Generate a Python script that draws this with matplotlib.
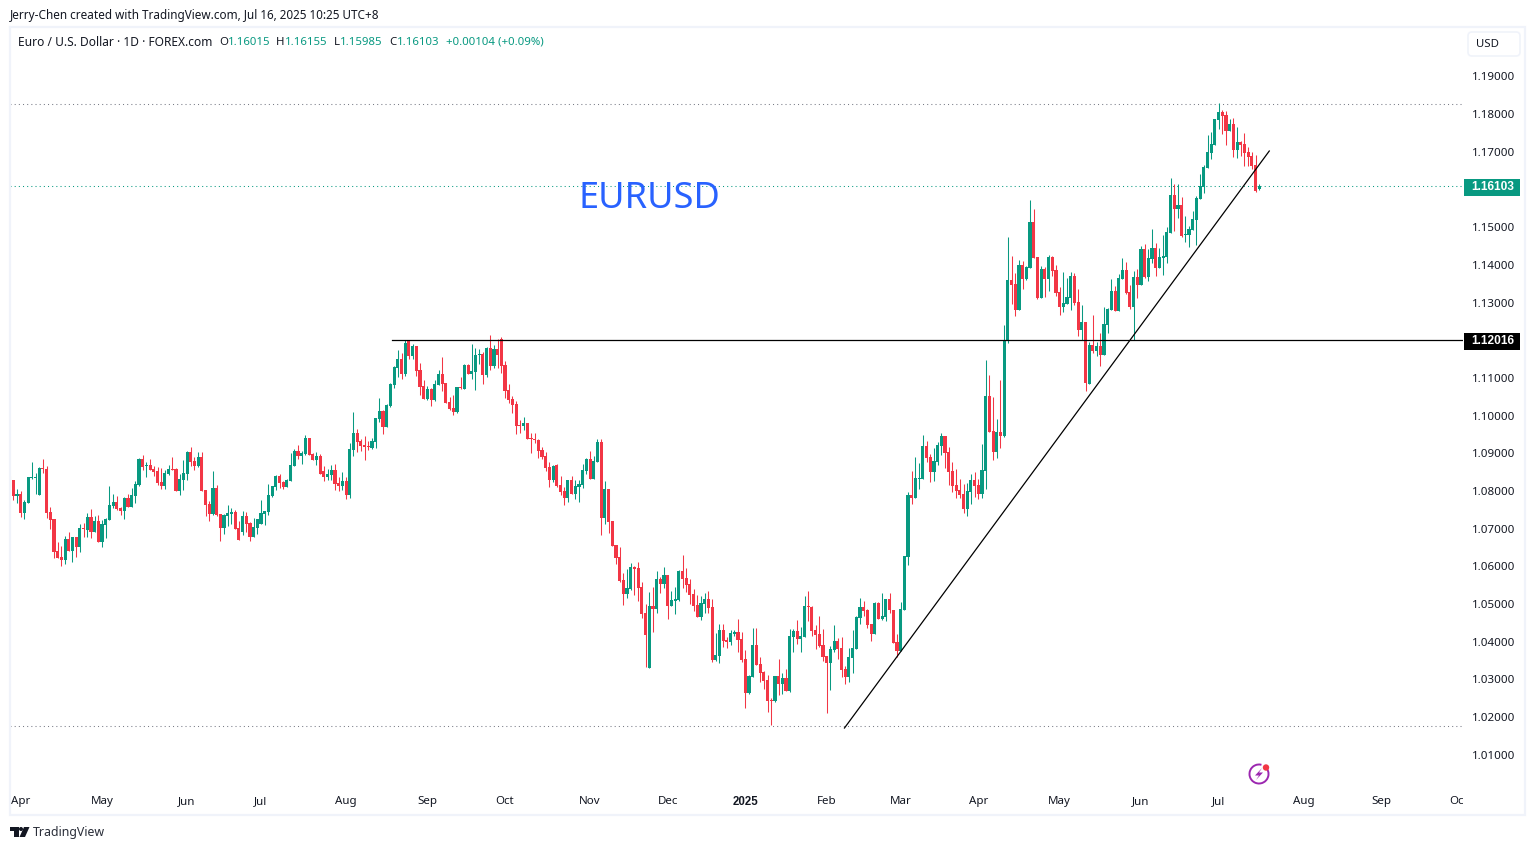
import numpy as np
import matplotlib
matplotlib.use("Agg")
import matplotlib.pyplot as plt
from matplotlib.patches import Rectangle, FancyBboxPatch, Circle, Polygon, Arc

plt.rcParams['font.family'] = ['Noto Sans', 'DejaVu Sans']

# daily EURUSD candles
opens = [1.0831,1.0829,1.0786,1.0792,1.0741,1.0769,1.0834,1.0834,1.0789,1.0861,1.0858,1.0744,1.0725,1.0640,1.0624,1.0616,1.0672,1.0640,1.0677,1.0651,1.0701,
         1.0696,1.0730,1.0691,1.0720,1.0664,1.0709,1.0722,1.0760,1.0770,1.0754,1.0746,1.0781,1.0757,1.0786,1.0815,1.0884,1.0866,1.0869,1.0858,1.0853,
         1.0823,1.0813,1.0845,1.0858,1.0858,1.0799,1.0829,1.0845,1.0903,1.0879,1.0866,1.0890,1.0802,1.0765,1.0738,1.0807,1.0738,1.0701,1.0733,1.0738,
         1.0744,1.0701,1.0691,1.0733,1.0715,1.0677,1.0701,1.0712,1.0738,1.0744,1.0786,1.0810,1.0839,1.0823,1.0810,1.0826,1.0866,1.0906,1.0892,1.0898,
         1.0940,1.0898,1.0882,1.0892,1.0853,1.0837,1.0842,1.0855,1.0821,1.0813,1.0826,1.0789,1.0908,1.0954,1.0932,1.0921,1.0919,1.0914,1.0930,1.0991,
         1.1012,1.0969,1.1025,1.1081,1.1126,1.1150,1.1110,1.1200,1.1158,1.1185,1.1121,1.1078,1.1044,1.1070,1.1041,1.1081,1.1110,1.1086,1.1036,1.1020,
         1.1009,1.1076,1.1070,1.1134,1.1110,1.1115,1.1161,1.1163,1.1108,1.1179,1.1131,1.1177,1.1203,1.1134,1.1068,1.1044,1.1031,1.0975,1.0972,1.0980,
         1.0940,1.0938,1.0935,1.0908,1.0892,1.0863,1.0829,1.0869,1.0815,1.0800,1.0781,1.0829,1.0792,1.0810,1.0815,1.0853,1.0884,1.0831,1.0877,1.0930,
         1.0728,1.0805,1.0720,1.0656,1.0625,1.0564,1.0527,1.0540,1.0598,1.0596,1.0545,1.0476,1.0330,1.0495,1.0487,1.0566,1.0553,1.0577,1.0495,1.0508,
         1.0511,1.0588,1.0569,1.0553,1.0527,1.0497,1.0466,1.0500,1.0513,1.0492,1.0351,1.0362,1.0431,1.0404,1.0399,1.0420,1.0426,1.0407,1.0354,1.0264,
         1.0306,1.0391,1.0341,1.0320,1.0298,1.0245,1.0243,1.0309,1.0288,1.0304,1.0269,1.0412,1.0428,1.0407,1.0412,1.0495,1.0492,1.0431,1.0420,1.0391,
         1.0362,1.0343,1.0378,1.0402,1.0383,1.0328,1.0306,1.0357,1.0381,1.0463,1.0492,1.0484,1.0447,1.0420,1.0503,1.0460,1.0466,1.0513,1.0484,1.0399,
         1.0375,1.0484,1.0625,1.0789,1.0781,1.0832,1.0832,1.0919,1.0890,1.0850,1.0877,1.0919,1.0946,1.0903,1.0853,1.0816,1.0803,1.0792,1.0752,1.0797,
         1.0829,1.0816,1.0792,1.0853,1.1052,1.0959,1.0903,1.0957,1.0946,1.1198,1.1360,1.1349,1.1280,1.1400,1.1363,1.1392,1.1514,1.1421,1.1312,1.1389,
         1.1363,1.1421,1.1387,1.1328,1.1288,1.1296,1.1312,1.1371,1.1302,1.1227,1.1249,1.1084,1.1187,1.1172,1.1185,1.1161,1.1240,1.1280,1.1331,1.1278,
         1.1363,1.1386,1.1328,1.1288,1.1368,1.1347,1.1442,1.1368,1.1416,1.1445,1.1392,1.1418,1.1421,1.1485,1.1585,1.1548,1.1559,1.1479,1.1479,1.1493,
         1.1519,1.1575,1.1607,1.1657,1.1697,1.1718,1.1785,1.1806,1.1798,1.1755,1.1774,1.1705,1.1726,1.1721,1.1700,1.1689,1.1665,1.16015]
highs = [1.0839,1.0830,1.0805,1.0799,1.0777,1.0837,1.0876,1.0847,1.0863,1.0884,1.0866,1.0757,1.0725,1.0664,1.0653,1.0680,1.0691,1.0677,1.0677,1.0712,1.0715,
         1.0741,1.0752,1.0733,1.0736,1.0722,1.0728,1.0813,1.0792,1.0786,1.0757,1.0784,1.0792,1.0807,1.0826,1.0887,1.0895,1.0876,1.0884,1.0866,1.0863,
         1.0861,1.0855,1.0869,1.0890,1.0861,1.0845,1.0882,1.0906,1.0916,1.0890,1.0903,1.0903,1.0802,1.0773,1.0853,1.0815,1.0738,1.0738,1.0762,1.0754,
         1.0749,1.0720,1.0746,1.0744,1.0717,1.0728,1.0725,1.0776,1.0746,1.0818,1.0813,1.0842,1.0845,1.0826,1.0831,1.0900,1.0911,1.0922,1.0906,1.0948,
         1.0940,1.0900,1.0903,1.0898,1.0866,1.0858,1.0869,1.0871,1.0837,1.0850,1.0837,1.0927,1.1009,1.0964,1.0938,1.0946,1.0932,1.0940,1.0993,1.1046,
         1.1015,1.1031,1.1086,1.1131,1.1174,1.1166,1.1200,1.1200,1.1190,1.1185,1.1139,1.1094,1.1078,1.1073,1.1094,1.1121,1.1155,1.1086,1.1049,1.1054,
         1.1076,1.1102,1.1137,1.1137,1.1190,1.1179,1.1177,1.1169,1.1182,1.1214,1.1187,1.1203,1.1208,1.1145,1.1084,1.1052,1.1038,1.0988,1.0996,1.0980,
         1.0954,1.0954,1.0938,1.0916,1.0903,1.0877,1.0869,1.0871,1.0839,1.0810,1.0829,1.0839,1.0829,1.0829,1.0871,1.0887,1.0906,1.0892,1.0938,1.0938,
         1.0826,1.0805,1.0720,1.0656,1.0651,1.0582,1.0593,1.0609,1.0601,1.0612,1.0558,1.0500,1.0532,1.0545,1.0588,1.0572,1.0598,1.0577,1.0535,1.0545,
         1.0590,1.0630,1.0596,1.0566,1.0540,1.0524,1.0521,1.0529,1.0535,1.0513,1.0423,1.0447,1.0447,1.0412,1.0431,1.0431,1.0460,1.0426,1.0378,1.0312,
         1.0436,1.0436,1.0359,1.0322,1.0312,1.0251,1.0309,1.0354,1.0317,1.0328,1.0434,1.0434,1.0458,1.0439,1.0521,1.0535,1.0495,1.0444,1.0468,1.0434,
         1.0362,1.0389,1.0444,1.0410,1.0412,1.0336,1.0383,1.0431,1.0468,1.0516,1.0508,1.0487,1.0447,1.0505,1.0505,1.0529,1.0513,1.0529,1.0484,1.0420,
         1.0505,1.0628,1.0797,1.0853,1.0890,1.0874,1.0949,1.0933,1.0898,1.0914,1.0930,1.0954,1.0946,1.0917,1.0877,1.0858,1.0832,1.0818,1.0821,1.0845,
         1.0850,1.0832,1.0925,1.1148,1.1108,1.1049,1.0991,1.1095,1.1241,1.1474,1.1424,1.1379,1.1413,1.1410,1.1397,1.1572,1.1549,1.1421,1.1397,1.1395,
         1.1426,1.1424,1.1400,1.1341,1.1381,1.1365,1.1381,1.1379,1.1336,1.1294,1.1249,1.1196,1.1267,1.1196,1.1219,1.1288,1.1286,1.1363,1.1344,1.1376,
         1.1418,1.1408,1.1347,1.1384,1.1389,1.1450,1.1455,1.1442,1.1495,1.1458,1.1445,1.1479,1.1501,1.1631,1.1615,1.1615,1.1580,1.1530,1.1503,1.1543,
         1.1583,1.1641,1.1665,1.1745,1.1753,1.1787,1.1830,1.1811,1.1809,1.1787,1.1790,1.1766,1.1729,1.1750,1.1713,1.1700,1.1692,1.16155]
lows = [1.0811,1.0776,1.0769,1.0730,1.0726,1.0767,1.0831,1.0792,1.0789,1.0847,1.0728,1.0699,1.0622,1.0622,1.0600,1.0606,1.0640,1.0611,1.0624,1.0638,1.0677,
        1.0677,1.0675,1.0691,1.0664,1.0651,1.0675,1.0722,1.0754,1.0749,1.0736,1.0725,1.0757,1.0757,1.0768,1.0813,1.0855,1.0837,1.0855,1.0839,1.0815,
        1.0805,1.0805,1.0842,1.0855,1.0799,1.0789,1.0802,1.0829,1.0866,1.0855,1.0863,1.0799,1.0733,1.0720,1.0736,1.0733,1.0667,1.0685,1.0707,1.0712,
        1.0699,1.0669,1.0683,1.0691,1.0667,1.0677,1.0685,1.0712,1.0709,1.0736,1.0784,1.0802,1.0807,1.0805,1.0810,1.0826,1.0866,1.0884,1.0871,1.0895,
        1.0895,1.0882,1.0869,1.0845,1.0826,1.0829,1.0829,1.0802,1.0800,1.0802,1.0778,1.0781,1.0892,1.0903,1.0906,1.0882,1.0908,1.0911,1.0914,1.0983,
        1.0951,1.0969,1.1023,1.1073,1.1102,1.1097,1.1105,1.1150,1.1150,1.1105,1.1054,1.1044,1.1041,1.1025,1.1038,1.1081,1.1065,1.1033,1.1015,1.1001,
        1.1007,1.1070,1.1070,1.1110,1.1097,1.1068,1.1137,1.1084,1.1102,1.1121,1.1126,1.1126,1.1113,1.1046,1.1033,1.1007,1.0951,1.0954,1.0962,1.0938,
        1.0900,1.0927,1.0887,1.0884,1.0853,1.0810,1.0823,1.0810,1.0789,1.0762,1.0770,1.0792,1.0778,1.0770,1.0807,1.0845,1.0831,1.0831,1.0877,1.0683,
        1.0712,1.0688,1.0654,1.0606,1.0558,1.0497,1.0516,1.0537,1.0524,1.0508,1.0463,1.0333,1.0330,1.0426,1.0476,1.0528,1.0543,1.0460,1.0495,1.0474,
        1.0508,1.0543,1.0532,1.0500,1.0482,1.0466,1.0458,1.0476,1.0476,1.0346,1.0349,1.0343,1.0386,1.0383,1.0391,1.0415,1.0373,1.0346,1.0224,1.0261,
        1.0306,1.0338,1.0293,1.0274,1.0213,1.0179,1.0240,1.0259,1.0261,1.0269,1.0266,1.0373,1.0394,1.0373,1.0412,1.0455,1.0415,1.0381,1.0386,1.0349,
        1.0211,1.0272,1.0373,1.0354,1.0306,1.0288,1.0293,1.0317,1.0381,1.0447,1.0468,1.0436,1.0402,1.0420,1.0460,1.0458,1.0455,1.0476,1.0397,1.0359,
        1.0375,1.0484,1.0603,1.0765,1.0781,1.0805,1.0832,1.0877,1.0824,1.0826,1.0869,1.0895,1.0861,1.0816,1.0797,1.0781,1.0781,1.0741,1.0734,1.0765,
        1.0784,1.0779,1.0781,1.0805,1.0957,1.0882,1.0887,1.0914,1.0943,1.1193,1.1296,1.1265,1.1280,1.1336,1.1360,1.1392,1.1418,1.1310,1.1312,1.1315,
        1.1331,1.1371,1.1318,1.1267,1.1275,1.1296,1.1280,1.1294,1.1211,1.1201,1.1066,1.1084,1.1167,1.1157,1.1132,1.1161,1.1219,1.1280,1.1278,1.1278,
        1.1363,1.1323,1.1283,1.1201,1.1312,1.1347,1.1365,1.1357,1.1405,1.1370,1.1392,1.1373,1.1405,1.1485,1.1490,1.1524,1.1474,1.1461,1.1447,1.1493,
        1.1453,1.1575,1.1591,1.1657,1.1681,1.1718,1.1761,1.1748,1.1718,1.1754,1.1686,1.1684,1.1689,1.1662,1.1662,1.1655,1.1593,1.15985]
closes = [1.0826,1.0786,1.0792,1.0741,1.0770,1.0837,1.0837,1.0837,1.0861,1.0858,1.0741,1.0722,1.0638,1.0622,1.0616,1.0672,1.0640,1.0677,1.0651,1.0701,1.0699,
          1.0730,1.0691,1.0720,1.0664,1.0712,1.0725,1.0762,1.0770,1.0752,1.0746,1.0781,1.0757,1.0789,1.0818,1.0884,1.0863,1.0869,1.0855,1.0850,1.0821,
          1.0813,1.0847,1.0858,1.0855,1.0799,1.0831,1.0847,1.0903,1.0876,1.0866,1.0890,1.0799,1.0762,1.0738,1.0807,1.0736,1.0701,1.0736,1.0741,1.0744,
          1.0699,1.0669,1.0733,1.0712,1.0677,1.0704,1.0725,1.0741,1.0746,1.0789,1.0813,1.0839,1.0821,1.0810,1.0829,1.0869,1.0906,1.0892,1.0900,1.0940,
          1.0895,1.0882,1.0892,1.0846,1.0837,1.0845,1.0855,1.0818,1.0813,1.0826,1.0789,1.0911,1.0954,1.0930,1.0919,1.0916,1.0916,1.0932,1.0993,1.1012,
          1.0969,1.1028,1.1084,1.1129,1.1150,1.1110,1.1192,1.1158,1.1185,1.1118,1.1076,1.1044,1.1070,1.1041,1.1084,1.1110,1.1084,1.1033,1.1017,1.1009,
          1.1076,1.1072,1.1134,1.1110,1.1118,1.1161,1.1163,1.1108,1.1179,1.1131,1.1177,1.1161,1.1131,1.1065,1.1041,1.1028,1.0972,1.0972,1.0980,1.0938,
          1.0938,1.0935,1.0906,1.0890,1.0861,1.0829,1.0866,1.0813,1.0797,1.0781,1.0829,1.0792,1.0813,1.0818,1.0855,1.0884,1.0831,1.0879,1.0930,1.0728,
          1.0805,1.0717,1.0654,1.0622,1.0561,1.0527,1.0543,1.0598,1.0593,1.0543,1.0474,1.0418,1.0495,1.0487,1.0566,1.0553,1.0577,1.0495,1.0511,1.0513,
          1.0588,1.0566,1.0551,1.0524,1.0495,1.0466,1.0503,1.0513,1.0490,1.0351,1.0365,1.0431,1.0402,1.0399,1.0423,1.0426,1.0404,1.0351,1.0264,1.0309,
          1.0391,1.0338,1.0317,1.0296,1.0243,1.0243,1.0309,1.0288,1.0304,1.0269,1.0415,1.0428,1.0407,1.0415,1.0495,1.0492,1.0428,1.0418,1.0389,1.0359,
          1.0343,1.0381,1.0402,1.0381,1.0325,1.0306,1.0359,1.0383,1.0466,1.0492,1.0482,1.0444,1.0420,1.0503,1.0460,1.0468,1.0513,1.0484,1.0397,1.0375,
          1.0487,1.0628,1.0789,1.0781,1.0834,1.0834,1.0919,1.0887,1.0850,1.0880,1.0922,1.0946,1.0901,1.0850,1.0813,1.0800,1.0789,1.0752,1.0800,1.0829,
          1.0813,1.0792,1.0856,1.1052,1.0957,1.0903,1.0957,1.0946,1.1198,1.1360,1.1347,1.1280,1.1400,1.1363,1.1395,1.1514,1.1418,1.1312,1.1389,1.1363,
          1.1421,1.1384,1.1326,1.1288,1.1299,1.1315,1.1371,1.1299,1.1227,1.1248,1.1086,1.1187,1.1172,1.1185,1.1161,1.1243,1.1283,1.1331,1.1278,1.1365,
          1.1386,1.1325,1.1288,1.1368,1.1347,1.1442,1.1368,1.1418,1.1445,1.1392,1.1421,1.1424,1.1487,1.1585,1.1548,1.1559,1.1477,1.1482,1.1495,1.1522,
          1.1578,1.1609,1.1660,1.1700,1.1721,1.1787,1.1806,1.1795,1.1755,1.1774,1.1705,1.1726,1.1718,1.1697,1.1686,1.1662,1.1596,1.16103]

n_bars = min(len(opens), len(highs), len(lows), len(closes))

month_bars = [3, 25, 48, 68, 91, 113, 134, 157, 178, 199, 221, 241, 262, 284, 306, 327, 350, 371, 392]
month_labels = ['Apr', 'May', 'Jun', 'Jul', 'Aug', 'Sep', 'Oct', 'Nov', 'Dec', '2025', 'Feb', 'Mar', 'Apr', 'May', 'Jun', 'Jul', 'Aug', 'Sep', 'Oct']
price_ticks = [1.01, 1.02, 1.03, 1.04, 1.05, 1.06, 1.07, 1.08, 1.09, 1.10, 1.11, 1.13, 1.14, 1.15, 1.17, 1.18, 1.19]

last_price = 1.16103
support_price = 1.12016
support_start = 103.5
range_high = 1.1828
range_low = 1.0176
trend_x = [225.8, 340.7]
trend_y = [1.01705, 1.17022]

UP = '#089981'
DOWN = '#F23645'
TEXT = '#131722'
BORDER = '#F0F3FA'
BOLD = ['Liberation Sans', 'DejaVu Sans']

W, H = 1535, 850
fig = plt.figure(figsize=(W / 100, H / 100), dpi=100, facecolor='white')
ax = fig.add_axes([10 / W, (H - 815) / H, 1453 / W, 788 / H])
ax.set_xlim(0.1, 393.1)
ax.set_ylim(0.99396, 1.20314)
for s in ax.spines.values():
    s.set_visible(False)

o = np.array(opens[:n_bars])
h = np.array(highs[:n_bars])
l = np.array(lows[:n_bars])
c = np.array(closes[:n_bars])
idx = np.arange(n_bars)
cols = [UP if c[i] >= o[i] else DOWN for i in idx]
# a flat candle still shows as a 1px body
body = np.maximum(np.abs(c - o), 0.00027)
ax.vlines(idx, l, h, colors=cols, linewidth=0.75, zorder=3)
ax.bar(idx, body, bottom=np.minimum(o, c), width=0.85, color=cols, linewidth=0, zorder=3)

# levels
ax.axhline(range_high, color='#787B86', lw=0.75, ls=(0, (1, 3)), zorder=1)
ax.axhline(range_low, color='#787B86', lw=0.75, ls=(0, (1, 3)), zorder=1)
ax.axhline(last_price, color=UP, lw=0.75, ls=(0, (1, 3)), zorder=1)
ax.plot([support_start, ax.get_xlim()[1]], [support_price, support_price], color='black', lw=0.9, zorder=4)
ax.plot(trend_x, trend_y, color='black', lw=0.9, zorder=4)

ax.text(0.391, 0.7815, 'EURUSD', transform=ax.transAxes, color='#2962FF', fontsize=26, ha='left', va='center')

# scales
ax.yaxis.tick_right()
ax.set_yticks(price_ticks)
ax.set_yticklabels(['%.5f' % p for p in price_ticks])
ax.tick_params(axis='y', length=0, pad=6.5, labelsize=8.3, labelcolor=TEXT)
ax.set_xticks(month_bars)
ax.set_xticklabels(month_labels)
ax.tick_params(axis='x', length=0, direction='in', pad=-13.5, labelsize=8.3, labelcolor=TEXT)
for lab, name in zip(ax.get_xticklabels(), month_labels):
    lab.set_clip_on(True)
    lab.set_clip_box(ax.bbox)
    if name == '2025':
        lab.set_family(BOLD)
        lab.set_fontweight('bold')


def price_tag(price, color):
    tr = ax.get_yaxis_transform()
    mid = price - 1.5 / 3767
    ax.add_patch(Rectangle((1 + 1 / 1453, mid - 8.5 / 3767), 56 / 1453, 17 / 3767, transform=tr,
                           facecolor=color, edgecolor='none', clip_on=False, zorder=5))
    ax.text(1 + 30 / 1453, mid, '%.5f' % price, transform=tr, color='white', fontsize=8.6, fontweight='bold',
            family=BOLD, ha='center', va='center', clip_on=False, zorder=6)


price_tag(last_price, UP)
price_tag(support_price, 'black')

# page furniture in pixel coordinates
ov = fig.add_axes([0, 0, 1, 1], zorder=10)
ov.set_xlim(0, W)
ov.set_ylim(H, 0)
ov.set_axis_off()
ov.patch.set_alpha(0)

ov.plot([10, 1525, 1525, 10, 10], [27, 27, 815, 815, 27], color=BORDER, lw=1.6, solid_joinstyle='miter')
ov.add_patch(FancyBboxPatch((1468, 32), 52, 24, boxstyle='round,pad=0,rounding_size=4', facecolor='white',
                            edgecolor=BORDER, lw=1.2))
ov.text(1476, 44, 'USD', fontsize=8.2, color=TEXT, va='center')

ov.text(10, 15, 'Jerry-Chen created with TradingView.com, Jul 16, 2025 10:25 UTC+8', fontsize=8.45, color=TEXT, va='center')

ov.text(18, 42, 'Euro / U.S. Dollar · 1D · FOREX.com', fontsize=8.6, color=TEXT, va='center')
legend_bits = [(219, 'O', TEXT), (228, '1.16015', UP), (276, 'H', TEXT), (285, '1.16155', UP), (334, 'L', TEXT),
               (340, '1.15985', UP), (389, 'C', TEXT), (397, '1.16103', UP), (446, '+0.00104 (+0.09%)', UP)]
for x0, s, col in legend_bits:
    ov.text(x0, 42, s, fontsize=8.2, color=col, va='center')

# snapshot badge
ov.add_patch(Arc((1259, 774), 19, 19, theta1=-40, theta2=285, color='#9C27B0', lw=1.4))
ov.add_patch(Polygon([(1262, 768), (1255, 775.5), (1259, 775.5), (1256, 780), (1263, 772.5), (1259, 772.5)],
                     closed=True, facecolor='#9C27B0', edgecolor='none'))
ov.add_patch(Circle((1266, 767.5), 3.2, facecolor=DOWN, edgecolor='none'))

# TradingView logo
ov.add_patch(Polygon([(10, 827), (18.5, 827), (18.5, 837), (14, 837), (14, 831), (10, 831)], closed=True,
                     facecolor=TEXT, edgecolor='none'))
ov.add_patch(Circle((21, 829), 2, facecolor=TEXT, edgecolor='none'))
ov.add_patch(Polygon([(24, 827), (29.5, 827), (25, 837), (19.5, 837)], closed=True, facecolor=TEXT, edgecolor='none'))
ov.text(33, 832.5, 'TradingView', fontsize=8.9, color='#2A2E39', va='center')

fig.savefig('out.png', dpi=100)
